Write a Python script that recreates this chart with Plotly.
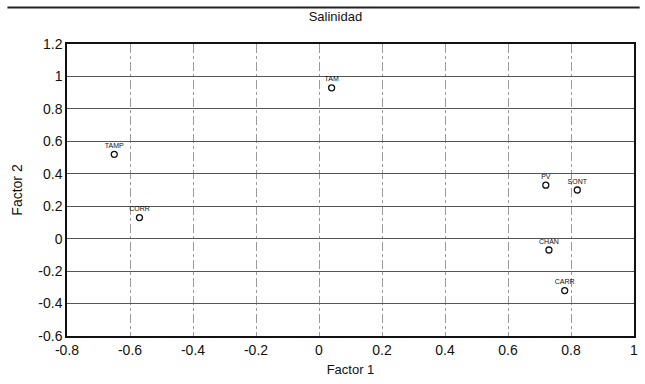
import plotly.graph_objects as go

# Factor loadings for salinity stations
stations = ["TAM", "TAMP", "CORR", "PV", "SONT", "CHAN", "CARR"]
factor1 = [0.04, -0.65, -0.57, 0.72, 0.82, 0.73, 0.78]
factor2 = [0.93, 0.52, 0.13, 0.33, 0.30, -0.07, -0.32]

x_ticks = [-0.8, -0.6, -0.4, -0.2, 0, 0.2, 0.4, 0.6, 0.8, 1]
x_tick_text = ["-0.8", "-0.6", "-0.4", "-0.2", "0", "0.2", "0.4", "0.6", "0.8", "1"]
y_ticks = [-0.6, -0.4, -0.2, 0, 0.2, 0.4, 0.6, 0.8, 1, 1.2]
y_tick_text = ["-0.6", "-0.4", "-0.2", "0", "0.2", "0.4", "0.6", "0.8", "1", "1.2"]

font_family = "Liberation Sans, Arial, sans-serif"

fig = go.Figure()
fig.add_trace(go.Scatter(
    x=factor1,
    y=factor2,
    mode="markers+text",
    text=stations,
    textposition="top center",
    textfont=dict(size=7, color="#111111", family=font_family),
    marker=dict(symbol="circle-open", size=6, color="#111111",
                line=dict(width=1.3, color="#111111")),
    cliponaxis=False,
    showlegend=False,
))

fig.update_layout(
    width=645,
    height=384,
    margin=dict(l=67, r=7, t=44, b=48),
    paper_bgcolor="white",
    plot_bgcolor="white",
    font=dict(family=font_family, size=14, color="#111111"),
    title=dict(text="Salinidad", x=0.52, xanchor="center", y=0.958,
               yanchor="middle", font=dict(size=13, color="#111111")),
    xaxis=dict(
        range=[-0.8, 1],
        tickvals=x_ticks,
        ticktext=x_tick_text,
        showgrid=True,
        gridcolor="#9a9a9a",
        gridwidth=1,
        griddash="dashdot",
        zeroline=False,
        showline=True,
        linecolor="#111111",
        linewidth=1.5,
        mirror=True,
        ticks="",
        tickfont=dict(size=14),
        title=dict(text="Factor 1", font=dict(size=13), standoff=8),
    ),
    yaxis=dict(
        range=[-0.6, 1.2],
        tickvals=y_ticks,
        ticktext=y_tick_text,
        showgrid=True,
        gridcolor="#555555",
        gridwidth=1,
        zeroline=False,
        showline=True,
        linecolor="#111111",
        linewidth=1.5,
        mirror=True,
        ticks="",
        tickfont=dict(size=14),
        title=dict(text="Factor 2", font=dict(size=14), standoff=12),
    ),
)

# Frame line across the top of the page
fig.add_shape(type="line", xref="paper", yref="paper",
              x0=-0.105, x1=1.01, y0=1.125, y1=1.125,
              line=dict(color="#222222", width=2))

fig.write_html("out.html")
